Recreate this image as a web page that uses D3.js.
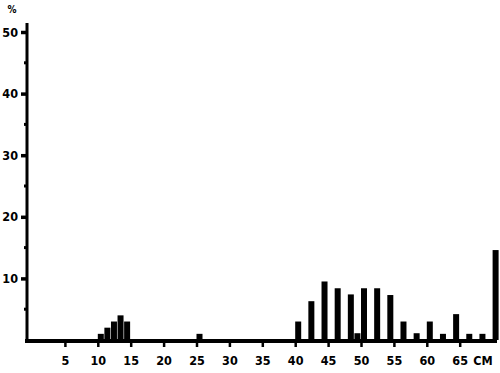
<!DOCTYPE html>
<html>
<head>
<meta charset="utf-8">
<script src="https://cdn.jsdelivr.net/npm/d3@7"></script>
<style>
  body { margin: 0; background: #fff; }
  svg text { font-family: "DejaVu Sans Condensed", "DejaVu Sans", sans-serif; font-weight: bold; }
</style>
</head>
<body>
<div id="chart"></div>
<script>
'use strict';

var outerWidth = 500;
var outerHeight = 373;

// length class (cm) at the left edge of each bar, and its percentage
var lengths = [10, 11, 12, 13, 14, 25, 40, 42, 44, 46, 48, 49, 50, 52, 54, 56, 58, 60, 62, 64, 66, 68, 70];
var percents = [1, 2, 3, 4, 3, 1, 3, 6.3, 9.5, 8.4, 7.4, 1.1, 8.4, 8.4, 7.3, 3, 1.1, 3, 1, 4.2, 1, 1, 14.6];

var xTickValues = [5, 10, 15, 20, 25, 30, 35, 40, 45, 50, 55, 60, 65];
var yTickValues = [10, 20, 30, 40, 50];
var yMinorTicks = [5, 15, 25, 35, 45];

var svg = d3.select('#chart').append('svg')
  .attr('width', outerWidth)
  .attr('height', outerHeight);

// scales fitted to the scanned axes
var xScale = d3.scaleLinear().domain([0, 70]).range([32, 492.6]);
var yScale = d3.scaleLinear().domain([0, 50]).range([340, 32]);

var barWidth = 6;

// bars
svg.selectAll('rect.bar')
  .data(lengths)
  .enter().append('rect')
  .attr('class', 'bar')
  .attr('x', function(d){ return xScale(d); })
  .attr('y', function(d, i){ return yScale(percents[i]); })
  .attr('width', barWidth)
  .attr('height', function(d, i){ return yScale(0) - yScale(percents[i]); })
  .attr('fill', '#000');

// x axis
var xAxis = svg.append('g')
  .attr('transform', 'translate(0,' + 341 + ')')
  .call(d3.axisBottom(xScale).tickValues(xTickValues).tickSize(6).tickSizeOuter(0).tickPadding(9));
xAxis.select('.domain').remove();
xAxis.selectAll('.tick line').attr('stroke', '#000').attr('stroke-width', 2.5);
xAxis.selectAll('.tick text').attr('font-size', 12.5).attr('fill', '#000');
xAxis.append('line')
  .attr('x1', 25).attr('x2', 497)
  .attr('stroke', '#000').attr('stroke-width', 4);
xAxis.append('text')
  .attr('x', 483).attr('y', 15).attr('dy', '0.71em')
  .attr('text-anchor', 'middle')
  .attr('font-size', 12.5).attr('fill', '#000')
  .text('CM');

// y axis
var yAxis = svg.append('g')
  .attr('transform', 'translate(27,0)')
  .call(d3.axisLeft(yScale).tickValues(yTickValues).tickSize(6).tickSizeOuter(0).tickPadding(3));
yAxis.select('.domain').remove();
yAxis.selectAll('.tick line').attr('stroke', '#000').attr('stroke-width', 3.5);
yAxis.selectAll('.tick text').attr('font-size', 12.5).attr('fill', '#000');
yAxis.append('line')
  .attr('y1', 23).attr('y2', 343)
  .attr('stroke', '#000').attr('stroke-width', 3);
yAxis.selectAll('line.minor')
  .data(yMinorTicks)
  .enter().append('line')
  .attr('class', 'minor')
  .attr('x1', -3).attr('x2', 0)
  .attr('y1', function(d){ return yScale(d); })
  .attr('y2', function(d){ return yScale(d); })
  .attr('stroke', '#000').attr('stroke-width', 3);

// unit label
svg.append('text')
  .attr('x', 12).attr('y', 13)
  .attr('text-anchor', 'middle')
  .attr('font-size', 10).attr('fill', '#000')
  .text('%');
</script>
</body>
</html>
